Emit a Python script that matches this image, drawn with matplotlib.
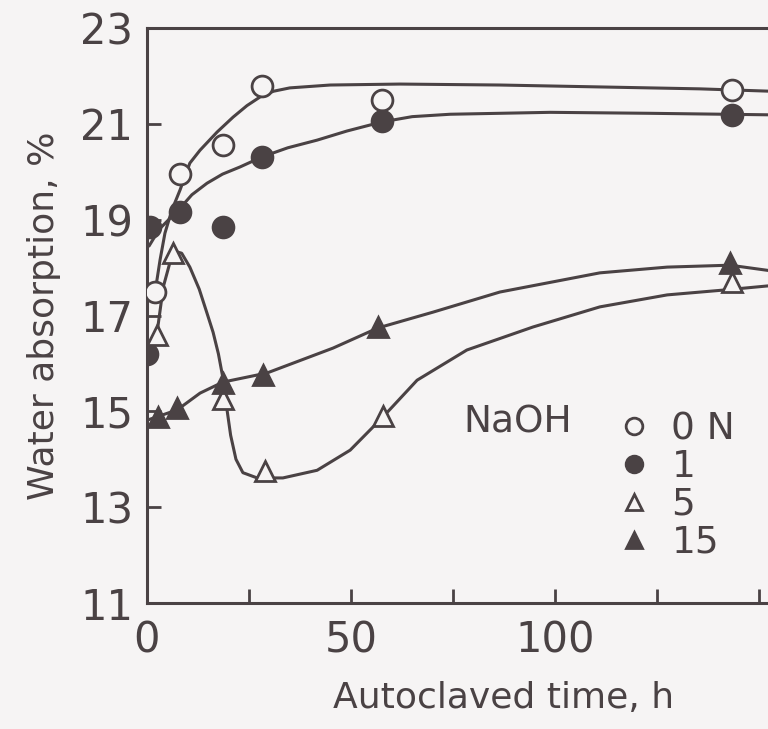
import numpy as np
import matplotlib.pyplot as plt

INK = '#4a4244'
BG = '#f6f4f4'

# measured points: autoclaved time (h) vs water absorption (%)
t_0n = [2.0, 8.1, 18.6, 28.2, 57.7, 143.3]
w_0n = [17.5, 19.95, 20.55, 21.8, 21.5, 21.7]
t_1n = [0.0, 0.8, 8.1, 18.6, 28.2, 57.6, 143.3]
w_1n = [16.2, 18.85, 19.15, 18.85, 20.3, 21.05, 21.18]
t_5n = [2.4, 6.4, 18.6, 28.9, 57.8, 143.5]
w_5n = [16.6, 18.3, 15.25, 13.75, 14.9, 17.7]
t_15n = [2.7, 7.3, 18.6, 28.4, 56.6, 143.0]
w_15n = [14.88, 15.07, 15.6, 15.75, 16.75, 18.1]

# hand-drawn trend curves
ct_0n = [2.0, 3.2, 4.4, 6.1, 8.1, 10.5, 13.0, 17.2, 21.1, 24.5, 27.7, 31.0, 35.0, 44.9, 62.0, 86.5, 111.0, 135.5, 160.0]
cw_0n = [17.5, 18.16, 18.72, 19.2, 19.62, 20.18, 20.45, 20.83, 21.14, 21.38, 21.56, 21.68, 21.75, 21.81, 21.83, 21.81, 21.77, 21.73, 21.66]
ct_1n = [0.5, 3.0, 8.1, 11.0, 14.7, 18.5, 22.8, 28.2, 34.5, 41.7, 49.0, 57.6, 65.0, 74.3, 98.8, 123.0, 160.0]
cw_1n = [18.45, 18.8, 19.24, 19.52, 19.76, 19.95, 20.1, 20.31, 20.5, 20.66, 20.85, 21.04, 21.15, 21.2, 21.24, 21.22, 21.18]
ct_5n = [2.4, 4.0, 6.4, 8.5, 10.5, 12.8, 14.7, 16.2, 17.5, 18.6, 19.5, 20.5, 21.8, 23.5, 27.0, 33.3, 41.7, 49.8, 57.8, 66.2, 78.4, 94.6, 111.0, 127.5, 141.2, 160.0]
cw_5n = [16.6, 17.6, 18.35, 18.3, 18.01, 17.55, 17.05, 16.65, 16.2, 15.7, 15.1, 14.5, 14.0, 13.72, 13.61, 13.61, 13.77, 14.19, 14.88, 15.65, 16.28, 16.76, 17.18, 17.43, 17.53, 17.68]
ct_15n = [0.2, 7.4, 13.0, 18.6, 29.4, 45.6, 56.6, 70.1, 86.5, 111.0, 127.5, 142.9, 160.0]
cw_15n = [14.82, 15.03, 15.38, 15.61, 15.8, 16.32, 16.74, 17.07, 17.49, 17.89, 18.01, 18.05, 17.85]

x_major = [0, 50, 100]
x_minor = [25, 75, 125, 150, 175]
y_ticks = [11, 13, 15, 17, 19, 21, 23]

plt.rcParams['font.family'] = 'DejaVu Sans'
plt.rcParams['text.color'] = INK

fig = plt.figure(figsize=(7.68, 7.29), dpi=100, facecolor=BG)
ax = fig.add_axes([147 / 768, 126 / 729, 714 / 768, 575 / 729])
ax.set_facecolor(BG)

for ct, cw in [(ct_0n, cw_0n), (ct_1n, cw_1n), (ct_5n, cw_5n), (ct_15n, cw_15n)]:
    ax.plot(ct, cw, color=INK, linewidth=2.2, solid_capstyle='round',
            solid_joinstyle='round', zorder=2)

h0, = ax.plot(t_0n, w_0n, 'o', ms=15, mfc=BG, mec=INK, mew=2.0, ls='none', zorder=3)
h1, = ax.plot(t_1n, w_1n, 'o', ms=15, mfc=INK, mec=INK, mew=2.0, ls='none', zorder=3)
h5, = ax.plot(t_5n, w_5n, '^', ms=14, mfc=BG, mec=INK, mew=2.0, ls='none', zorder=3)
h15, = ax.plot(t_15n, w_15n, '^', ms=14, mfc=INK, mec=INK, mew=2.0, ls='none', zorder=3)

ax.set_xlim(0, 175)
ax.set_ylim(11, 23)
ax.set_xticks(x_major)
ax.set_xticks(x_minor, minor=True)
ax.set_yticks(y_ticks)
ax.tick_params(which='both', direction='in', length=10, width=2, color=INK,
               labelsize=30, labelcolor=INK)
ax.tick_params(axis='x', pad=12)
ax.tick_params(axis='y', pad=10)
for s in ax.spines.values():
    s.set_linewidth(2.2)
    s.set_color(INK)

ax.set_xlabel('Autoclaved time, h', fontsize=26, color=INK, labelpad=14)
ax.set_ylabel('Water absorption, %', fontsize=26, color=INK, labelpad=14)

leg = ax.legend([h0, h1, h5, h15], ['0 N', '1', '5', '15'],
                loc='upper left', bbox_to_anchor=(0.64, 0.36),
                frameon=False, fontsize=27, markerscale=0.8,
                handlelength=0.8, handletextpad=0.6, labelspacing=0.05,
                borderaxespad=0)
for txt in leg.get_texts():
    txt.set_color(INK)
ax.text(0.443, 0.314, 'NaOH', transform=ax.transAxes, fontsize=27,
        color=INK, va='center', ha='left')

fig.savefig('out.png', dpi=100, facecolor=BG)
